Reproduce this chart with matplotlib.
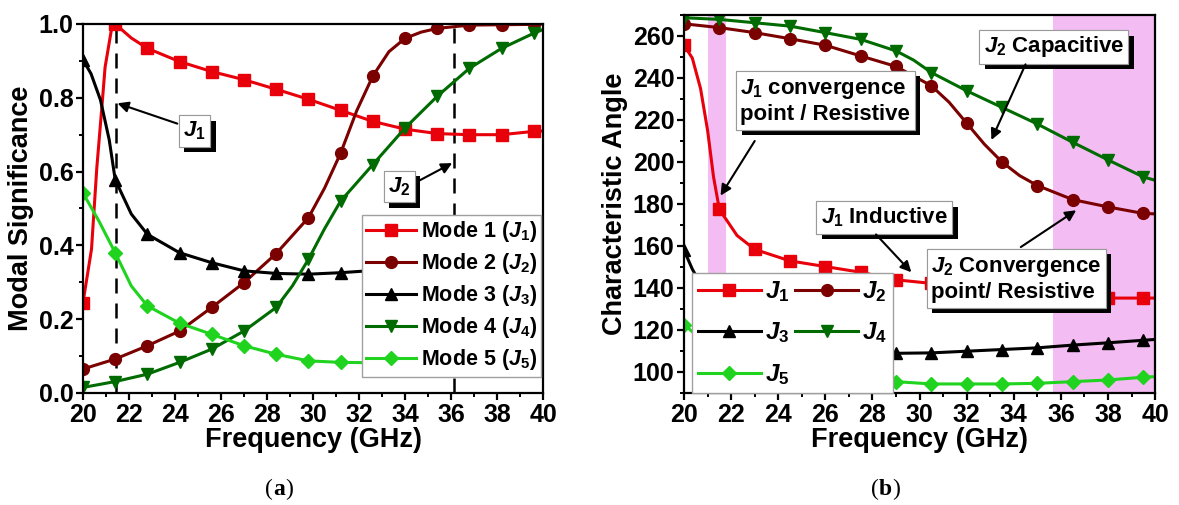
import numpy as np
import matplotlib
matplotlib.use("Agg")
import matplotlib.pyplot as plt
import matplotlib.patheffects as pe
from matplotlib.ticker import MultipleLocator, FormatStrFormatter

plt.rcParams["font.family"] = ["Liberation Sans", "DejaVu Sans"]
plt.rcParams["font.weight"] = "bold"
plt.rcParams["axes.labelweight"] = "bold"
plt.rcParams["mathtext.fontset"] = "custom"
plt.rcParams["mathtext.rm"] = "Liberation Sans:bold"
plt.rcParams["mathtext.it"] = "Liberation Sans:italic:bold"
plt.rcParams["mathtext.bf"] = "Liberation Sans:bold"

# ---- (a) modal significance ----
f_a = [20.0, 21.4, 22.8, 24.2, 25.6, 27.0, 28.4, 29.8, 31.2, 32.6, 34.0, 35.4, 36.8, 38.2, 39.6]
ms_1 = [0.245, 1.0, 0.934, 0.898, 0.871, 0.849, 0.823, 0.796, 0.766, 0.736, 0.715, 0.703, 0.700, 0.700, 0.709]
ms_2 = [0.065, 0.092, 0.128, 0.168, 0.232, 0.299, 0.378, 0.475, 0.650, 0.859, 0.961, 0.988, 0.997, 0.998, 0.999]
ms_3 = [0.903, 0.578, 0.430, 0.380, 0.353, 0.331, 0.324, 0.322, 0.326, 0.332, 0.342, 0.355, 0.370, 0.390, 0.410]
ms_4 = [0.015, 0.031, 0.051, 0.083, 0.119, 0.168, 0.232, 0.362, 0.520, 0.619, 0.718, 0.804, 0.880, 0.934, 0.975]
ms_5 = [0.542, 0.380, 0.236, 0.189, 0.159, 0.128, 0.105, 0.087, 0.083, 0.082, 0.085, 0.090, 0.097, 0.107, 0.120]
# extra points
ms_1_ex = ([20.37, 20.6, 20.81, 20.96, 21.25, 22.1, 40.0], [0.39, 0.61, 0.767, 0.883, 0.99, 0.962, 0.71])
ms_2_ex = ([30.5, 31.9, 33.3, 34.7, 40.0], [0.555, 0.765, 0.925, 0.978, 1.0])
ms_3_ex = ([20.35, 20.76, 21.14, 22.1, 40.0], [0.865, 0.794, 0.686, 0.485, 0.425])
ms_4_ex = ([29.1, 30.5, 40.0], [0.29, 0.445, 0.985])
ms_5_ex = ([20.7, 22.1, 40.0], [0.465, 0.29, 0.124])
mode_lines_a = [21.45, 36.15]

# ---- (b) characteristic angle ----
f_b = [20.0, 21.5, 23.0, 24.5, 26.0, 27.5, 29.0, 30.5, 32.0, 33.5, 35.0, 36.5, 38.0, 39.5]
ca_1 = [255.6, 177.4, 158.4, 152.9, 150.2, 147.5, 143.9, 142.2, 140.0, 138.0, 136.5, 135.6, 135.2, 135.2]
ca_2 = [265.8, 264.0, 261.6, 258.7, 255.6, 250.5, 245.5, 236.3, 218.5, 200.0, 188.8, 182.1, 178.6, 175.5]
ca_3 = [158.0, 126.0, 118.0, 114.0, 112.0, 110.2, 108.9, 109.1, 109.9, 110.7, 111.5, 112.8, 113.9, 115.1]
ca_4 = [268.7, 267.9, 266.3, 264.7, 261.6, 258.4, 252.9, 242.6, 233.9, 226.0, 218.1, 209.4, 201.0, 192.9]
ca_5 = [122.6, 108.0, 101.0, 98.5, 97.0, 96.0, 95.4, 94.3, 94.3, 94.3, 94.6, 95.4, 96.2, 97.5]
ca_1_ex = ([20.35, 20.7, 21.0, 21.25, 22.25, 40.0], [249.5, 235.0, 215.0, 193.0, 165.0, 135.2])
ca_2_ex = ([31.25, 32.75, 34.25, 40.0], [228.5, 208.5, 193.5, 175.3])
ca_3_ex = ([20.35, 40.0], [149.0, 115.5])
ca_4_ex = ([29.75, 40.0], [248.5, 191.3])
ca_5_ex = ([40.0], [97.8])
bands_b = [(21.0, 21.8), (35.65, 40.0)]

colors = ["#e8000b", "#7b0000", "#000000", "#006b00", "#1fd31f"]
markers = ["s", "o", "^", "v", "D"]
msizes = [8, 8.5, 8.5, 8.5, 7.5]


def draw(ax, fx, fy, extra, color, marker, msize, label):
    xs = np.concatenate([fx, extra[0]])
    ys = np.concatenate([fy, extra[1]])
    order = np.argsort(xs, kind="stable")
    xs, ys = xs[order], ys[order]
    idx = list(np.where(np.isin(xs, fx))[0])
    line, = ax.plot(xs, ys, color=color, lw=2.2, marker=marker, ms=msize,
                    markevery=idx, label=label)
    return line


def shadow_text(ax, x, y, s, size=16):
    t = ax.text(x, y, s, fontsize=size, ha="center", va="center",
                multialignment="left", zorder=6,
                bbox=dict(boxstyle="square,pad=0.2", fc="white",
                          ec="#9a9a9a", lw=0.8))
    t.get_bbox_patch().set_path_effects(
        [pe.withSimplePatchShadow(offset=(4, -4), shadow_rgbFace="black",
                                  alpha=1.0), pe.Normal()])
    return t


def arrow(ax, tail, head):
    ax.annotate("", xy=head, xytext=tail, zorder=7,
                arrowprops=dict(arrowstyle="-|>", color="black", lw=1.5,
                                mutation_scale=16, shrinkA=0, shrinkB=0))


def style(ax):
    for s in ax.spines.values():
        s.set_linewidth(1.6)
    ax.tick_params(which="major", direction="out", length=5, width=1.6,
                   labelsize=18, pad=2)
    ax.tick_params(which="minor", direction="out", length=3, width=1.4)
    ax.xaxis.set_major_locator(MultipleLocator(2))
    ax.xaxis.set_minor_locator(MultipleLocator(1))


fig = plt.figure(figsize=(11.79, 5.05), dpi=100)
ax1 = fig.add_axes([0.0704, 0.2218, 0.3902, 0.7307])
ax2 = fig.add_axes([0.5802, 0.2218, 0.3995, 0.7485])

# panel (a)
labels_a = [r"Mode %d ($J_{\mathit{%d}}$)" % (i, i) for i in range(1, 6)]
for fy, ex, c, m, s, lab in zip([ms_1, ms_2, ms_3, ms_4, ms_5],
                                [ms_1_ex, ms_2_ex, ms_3_ex, ms_4_ex, ms_5_ex],
                                colors, markers, msizes, labels_a):
    draw(ax1, f_a, fy, ex, c, m, s, lab)
for xv in mode_lines_a:
    ax1.axvline(xv, color="black", lw=1.8, dashes=(6, 4), zorder=1)
ax1.set_xlim(20, 40)
ax1.set_ylim(0, 1)
ax1.yaxis.set_major_locator(MultipleLocator(0.2))
ax1.yaxis.set_minor_locator(MultipleLocator(0.1))
ax1.yaxis.set_major_formatter(FormatStrFormatter("%.1f"))
style(ax1)
ax1.set_xlabel("Frequency (GHz)", fontsize=19.5, labelpad=0)
ax1.set_ylabel("Modal Significance", fontsize=19.5, labelpad=3)
leg1 = ax1.legend(loc="upper left", bbox_to_anchor=(0.606, 0.483),
                  fontsize=15.5, frameon=True, fancybox=False,
                  edgecolor="#a0a0a0", framealpha=1, borderpad=0.2,
                  labelspacing=0.33, handlelength=2.3, handletextpad=0.25,
                  borderaxespad=0)
leg1.get_frame().set_linewidth(1.0)
leg1.set_zorder(5)
shadow_text(ax1, 24.85, 0.71, r"$J_{\mathit{1}}$")
arrow(ax1, (24.1, 0.73), (21.5, 0.785))
shadow_text(ax1, 33.75, 0.56, r"$J_{\mathit{2}}$")
arrow(ax1, (34.6, 0.575), (36.05, 0.623))

# panel (b)
for a, b in bands_b:
    ax2.axvspan(a, b, color="#f3bcf3", lw=0, zorder=0)
labels_b = [r"$J_{\mathit{%d}}$" % i for i in range(1, 6)]
lines_b = []
for fy, ex, c, m, s, lab in zip([ca_1, ca_2, ca_3, ca_4, ca_5],
                                [ca_1_ex, ca_2_ex, ca_3_ex, ca_4_ex, ca_5_ex],
                                colors, markers, msizes, labels_b):
    lines_b.append(draw(ax2, f_b, fy, ex, c, m, s, lab))
ax2.set_xlim(20, 40)
ax2.set_ylim(90, 270)
ax2.yaxis.set_major_locator(MultipleLocator(20))
ax2.yaxis.set_minor_locator(MultipleLocator(10))
style(ax2)
ax2.set_xlabel("Frequency (GHz)", fontsize=19.5, labelpad=0)
ax2.set_ylabel("Characteristic Angle", fontsize=19.5, labelpad=3)
order_b = [0, 2, 4, 1, 3]
leg2 = ax2.legend([lines_b[i] for i in order_b], [labels_b[i] for i in order_b],
                  loc="lower left", bbox_to_anchor=(0.016, 0.0), ncol=2,
                  fontsize=17.5, frameon=True, fancybox=False,
                  edgecolor="#a0a0a0", framealpha=1, borderpad=0.25,
                  labelspacing=0.68, handlelength=2.6, handletextpad=0.15,
                  columnspacing=0.25, borderaxespad=0)
leg2.get_frame().set_linewidth(1.0)
leg2.set_zorder(5)

shadow_text(ax2, 26.0, 229.0, "$J_{\\mathit{1}}$ convergence\npoint / Resistive")
arrow(ax2, (23.0, 210.0), (21.55, 184.0))
shadow_text(ax2, 35.7, 254.8, r"$J_{\mathit{2}}$ Capacitive")
arrow(ax2, (34.5, 246.5), (33.05, 210.5))
shadow_text(ax2, 28.5, 173.6, r"$J_{\mathit{1}}$ Inductive")
arrow(ax2, (28.15, 165.5), (29.65, 147.5))
shadow_text(ax2, 34.1, 144.2, "$J_{\\mathit{2}}$ Convergence\npoint/ Resistive")
arrow(ax2, (34.3, 159.5), (36.65, 177.0))

# panel captions: "(" + bold letter + ")"
for xc, letter in [(0.225, "a"), (0.739, "b")]:
    t0 = fig.text(xc, 0.03, "(", fontsize=17, family="Liberation Serif",
                  weight="normal", va="center")
    t1 = ax1.annotate(letter, xy=(1, 0.5), xycoords=t0, va="center",
                      ha="left", fontsize=17, family="Liberation Serif",
                      weight="bold", annotation_clip=False)
    ax1.annotate(")", xy=(1, 0.5), xycoords=t1, va="center", ha="left",
                 fontsize=17, family="Liberation Serif", weight="normal",
                 annotation_clip=False)

fig.savefig("out.png", dpi=100)
